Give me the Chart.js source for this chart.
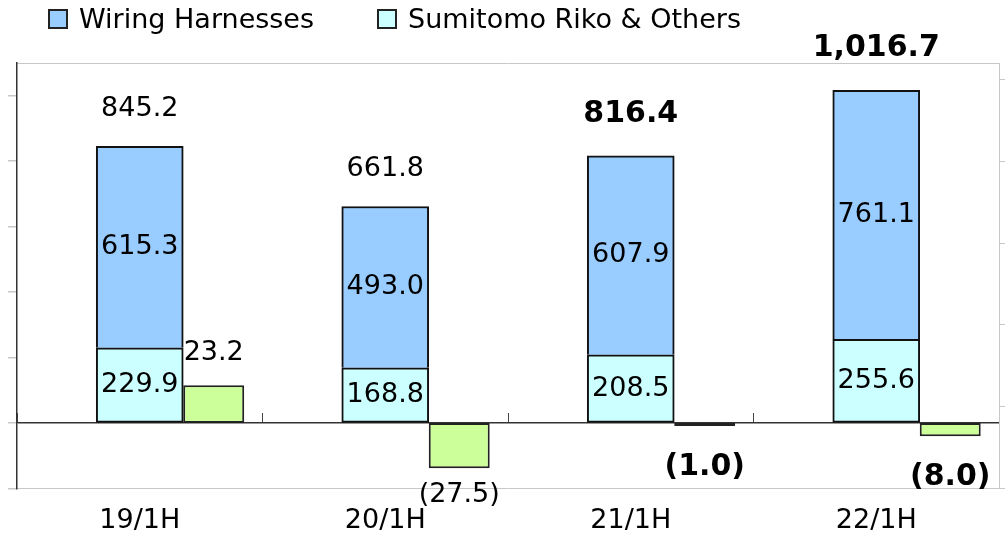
<!DOCTYPE html>
<html>
<head>
<meta charset="utf-8">
<script src="https://cdn.jsdelivr.net/npm/chart.js@4.4.1/dist/chart.umd.min.js"></script>
<style>
  html, body { margin: 0; padding: 0; background: #fff; }
  #wrap { position: relative; width: 1005px; height: 535px; }
  #chart { position: absolute; left: 0; top: 0; }
  .legend-item { position: absolute; top: 5px; display: flex; align-items: center; height: 27px;
    font: 27px "DejaVu Sans", Verdana, sans-serif; color: #000; white-space: nowrap; }
  .swatch { width: 20px; height: 20px; box-sizing: border-box; border: 2px solid #222; margin-right: 11px; }
</style>
</head>
<body>
<div id="wrap">
  <canvas id="chart" width="1005" height="535"></canvas>
  <div id="legend"></div>
</div>
<script>
// values in billion yen
const CATEGORIES = ['19/1H', '20/1H', '21/1H', '22/1H'];
const WIRING = [615.3, 493.0, 607.9, 761.1];
const RIKO = [229.9, 168.8, 208.5, 255.6];
const ADJUST = [23.2, -27.5, -1.0, -8.0];   // plotted on the secondary axis
const Y_TICKS = [-200, 0, 200, 400, 600, 800, 1000];
const Y2_TICKS = [-40, 10, 60, 110, 160, 210];

const FONT = '"DejaVu Sans", Verdana, sans-serif';
const DARK = '#333';
const LIGHT = '#c8c8c8';
const EMPHASIS = [false, false, true, true]; // latest two periods in bold

function fmt(v) {
  if (v < 0) return '(' + Math.abs(v).toFixed(1) + ')';
  return v.toLocaleString('en-US', { minimumFractionDigits: 1, maximumFractionDigits: 1 });
}

const valueLabels = {
  id: 'valueLabels',
  afterDatasetsDraw(chart) {
    const ctx = chart.ctx;
    const riko = chart.getDatasetMeta(1);
    const wire = chart.getDatasetMeta(2);
    const adj = chart.getDatasetMeta(3);
    const normal = '27px ' + FONT;
    const bold = 'bold 30px ' + FONT;
    ctx.save();
    ctx.textAlign = 'center';
    ctx.textBaseline = 'middle';
    ctx.fillStyle = '#000';
    CATEGORIES.forEach((_, i) => {
      ctx.font = normal;
      [[riko, RIKO], [wire, WIRING]].forEach(([meta, vals]) => {
        const bar = meta.data[i];
        ctx.fillText(fmt(vals[i]), bar.x, (bar.y + bar.base) / 2);
      });

      const top = wire.data[i];
      ctx.font = EMPHASIS[i] ? bold : normal;
      ctx.fillText(fmt(WIRING[i] + RIKO[i]), top.x, top.y - (EMPHASIS[i] ? 42 : 37));

      const g = adj.data[i];
      if (ADJUST[i] >= 0) {
        ctx.fillText(fmt(ADJUST[i]), g.x, Math.min(g.y, g.base) - 32);
      } else {
        ctx.fillText(fmt(ADJUST[i]), g.x, Math.max(g.y, g.base) + (EMPHASIS[i] ? 41 : 27));
      }
    });
    ctx.restore();
  }
};

const ticksFrom = list => scale => { scale.ticks = list.map(v => ({ value: v })); };

const chart = new Chart(document.getElementById('chart'), {
  type: 'bar',
  data: {
    labels: CATEGORIES,
    datasets: [
      // empty group on the left so the stacked column sits on the category centre
      { label: '', data: CATEGORIES.map(() => null), stack: 'spacer' },
      {
        label: 'Sumitomo Riko & Others', data: RIKO, stack: 'main',
        backgroundColor: '#ccffff', borderColor: '#111', borderWidth: 2,
        borderSkipped: false, barThickness: 87
      },
      {
        // bottom edge is the lower segment's top border
        label: 'Wiring Harnesses', data: WIRING, stack: 'main',
        backgroundColor: '#99ccff', borderColor: '#111', borderWidth: 2,
        borderSkipped: 'start', barThickness: 87
      },
      {
        label: 'Adjustments', data: ADJUST, stack: 'adjust', yAxisID: 'yRight',
        backgroundColor: '#ccff99', borderColor: '#222', borderWidth: 2,
        borderSkipped: false, categoryPercentage: 0.904, barPercentage: 0.824,
        minBarLength: 3
      }
    ]
  },
  options: {
    responsive: false,
    animation: false,
    layout: { padding: { left: 8, right: 0, top: 63, bottom: -18 } },
    plugins: { legend: { display: false }, tooltip: { enabled: false } },
    scales: {
      x: {
        offset: true,
        grid: { drawOnChartArea: false, drawTicks: false },
        border: { color: LIGHT, width: 1 },
        ticks: { color: '#000', font: { family: FONT, size: 27 }, padding: 16 }
      },
      xTop: {
        type: 'category', position: 'top',
        grid: { drawOnChartArea: false, drawTicks: false },
        border: { color: LIGHT, width: 1 },
        ticks: { display: false }
      },
      xZero: {
        type: 'category', position: { y: 0 }, offset: true,
        grid: { offset: true, drawOnChartArea: false, drawTicks: true, tickLength: -10, tickColor: '#444', lineWidth: 1 },
        border: { display: false },
        ticks: { display: false }
      },
      y: {
        stacked: true, min: -200, max: 1100,
        afterBuildTicks: ticksFrom(Y_TICKS),
        grid: {
          color: c => (c.tick && c.tick.value === 0 ? DARK : 'transparent'),
          lineWidth: 1.5, tickColor: LIGHT, tickLength: 9
        },
        border: { color: DARK, width: 1.5 },
        ticks: { display: false }
      },
      yRight: {
        position: 'right', min: -40, max: 220,
        afterBuildTicks: ticksFrom(Y2_TICKS),
        grid: { drawOnChartArea: false, tickLength: 6, tickColor: LIGHT },
        border: { color: LIGHT, width: 1 },
        ticks: { display: false }
      }
    }
  },
  plugins: [valueLabels]
});

// legend: the adjustment column is not listed on the slide
const LEGEND_LEFT = [48, 377];
const legend = document.getElementById('legend');
[chart.data.datasets[2], chart.data.datasets[1]].forEach((ds, k) => {
  const item = document.createElement('div');
  item.className = 'legend-item';
  item.style.left = LEGEND_LEFT[k] + 'px';
  const sw = document.createElement('span');
  sw.className = 'swatch';
  sw.style.background = ds.backgroundColor;
  item.appendChild(sw);
  item.appendChild(document.createTextNode(ds.label));
  legend.appendChild(item);
});
</script>
</body>
</html>
